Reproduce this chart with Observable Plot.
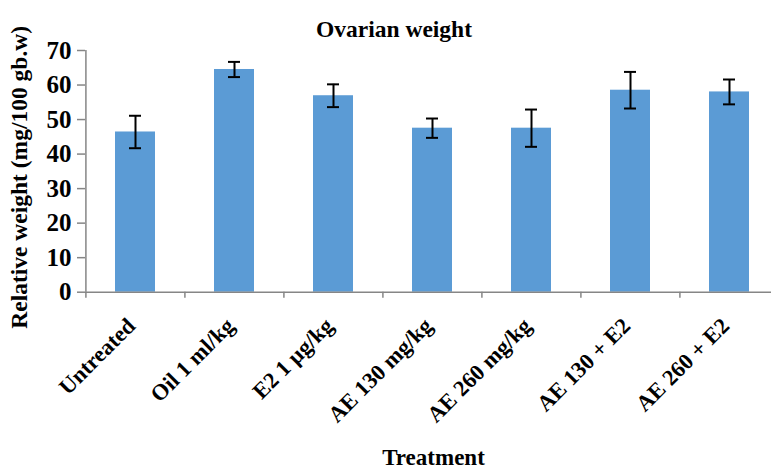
<!DOCTYPE html>
<html>
<head>
<meta charset="utf-8">
<script src="https://cdn.jsdelivr.net/npm/d3@7"></script>
<script src="https://cdn.jsdelivr.net/npm/@observablehq/plot@0.6"></script>
<style>
  html, body { margin: 0; padding: 0; background: #fff; }
  #chart svg { display: block; }
  #chart svg text { font-family: "Liberation Serif", "Times New Roman", "DejaVu Serif", serif !important; font-weight: bold; }
</style>
</head>
<body>
<div id="chart"></div>
<script>
const categories = ["Untreated", "Oil 1 ml/kg", "E2 1 µg/kg", "AE 130 mg/kg", "AE 260 mg/kg", "AE 130 + E2", "AE 260 + E2"];
const means = [46.4, 64.5, 56.9, 47.5, 47.5, 58.5, 58.0];
const errors = [4.7, 2.2, 3.3, 2.8, 5.4, 5.3, 3.6];
const yTicks = [0, 10, 20, 30, 40, 50, 60, 70];
const title = "Ovarian weight";
const yLabel = "Relative weight (mg/100 gb.w)";
const xLabel = "Treatment";

const data = categories.map((c, i) => ({treatment: c, mean: means[i], err: errors[i]}));

const W = 771, H = 469;
const xRange = [85, 779.4];
const step = (xRange[1] - xRange[0]) / categories.length;
const axisGray = "#868686";
const barColor = "#5b9bd5";
const font = {fontFamily: "Liberation Serif", fontWeight: "bold"};

const chart = Plot.plot({
  width: W,
  height: H,
  marginTop: 50,
  marginBottom: 177.3,
  marginLeft: 85,
  marginRight: 0,
  style: {background: "white", overflow: "hidden"},
  x: {domain: categories, range: xRange, paddingInner: 0.6, paddingOuter: 0.3, axis: null},
  y: {domain: [0, 70], axis: null},
  marks: [
    Plot.barY(data, {x: "treatment", y: "mean", fill: barColor}),
    Plot.ruleY([0], {stroke: axisGray, strokeWidth: 1.5}),
    Plot.ruleX([categories[0]], {x: d => d, dx: -step / 2, y1: 0, y2: 70, stroke: axisGray, strokeWidth: 1.5}),
    Plot.axisX({tickSize: 6, dx: -step / 2, stroke: axisGray, strokeWidth: 1.5, tickFormat: () => "", label: null}),
    Plot.axisX({tickSize: 0, tickPadding: 30, tickRotate: -45, fontSize: 22.5, ...font, fill: "black", label: null, textAnchor: "end", dx: -4}),
    Plot.axisY(yTicks, {tickSize: 8, tickPadding: 6, stroke: axisGray, strokeWidth: 1.5, fontSize: 25, ...font, fill: "black", label: null}),
    Plot.ruleX(data, {x: "treatment", y1: d => d.mean - d.err, y2: d => d.mean + d.err, stroke: "black", strokeWidth: 2}),
    Plot.tickY(data, {x: "treatment", y: d => d.mean - d.err, stroke: "black", strokeWidth: 2, insetLeft: 14, insetRight: 14}),
    Plot.tickY(data, {x: "treatment", y: d => d.mean + d.err, stroke: "black", strokeWidth: 2, insetLeft: 14, insetRight: 14}),
    Plot.text([title], {frameAnchor: "top", dx: -34.5, dy: -14, lineAnchor: "bottom", fontSize: 23.5, ...font, fill: "black"}),
    Plot.text([yLabel], {frameAnchor: "left", dx: -66, dy: 6, rotate: -90, textAnchor: "middle", lineAnchor: "middle", fontSize: 23.5, ...font, fill: "black"}),
    Plot.text([xLabel], {frameAnchor: "bottom", dx: 5, dy: 173, lineAnchor: "bottom", fontSize: 23, ...font, fill: "black"})
  ]
});
document.getElementById("chart").appendChild(chart);
</script>
</body>
</html>
